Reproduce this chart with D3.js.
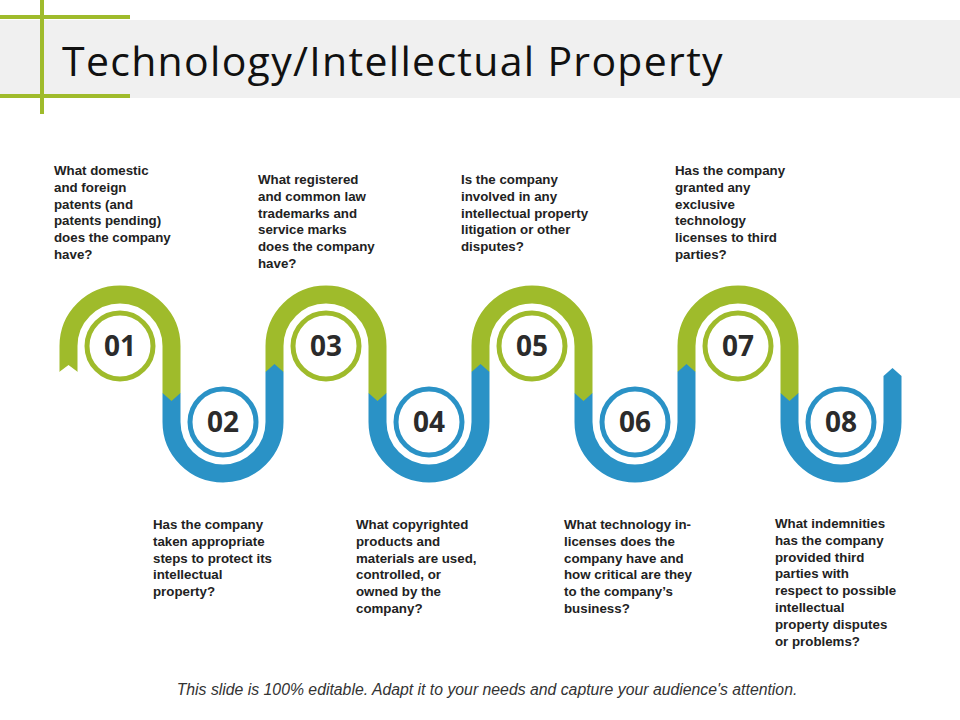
<!DOCTYPE html>
<html><head><meta charset="utf-8">
<script src="https://cdn.jsdelivr.net/npm/d3@7"></script>
<style>body{margin:0;background:#fff}</style></head>
<body><svg id="c" width="960" height="720"></svg>
<script>
const steps = ["01","02","03","04","05","06","07","08"];
const questions = [
 ["What domestic","and foreign","patents (and","patents pending)","does the company","have?"],
 ["Has the company","taken appropriate","steps to protect its","intellectual","property?"],
 ["What registered","and common law","trademarks and","service marks","does the company","have?"],
 ["What copyrighted","products and","materials are used,","controlled, or","owned by the","company?"],
 ["Is the company","involved in any","intellectual property","litigation or other","disputes?"],
 ["What technology in-","licenses does the","company have and","how critical are they","to the company’s","business?"],
 ["Has the company","granted any","exclusive","technology","licenses to third","parties?"],
 ["What indemnities","has the company","provided third","parties with","respect to possible","intellectual","property  disputes","or problems?"]
];
const textTop = [170,524,179,524,179,524,170,523];
const textX = [54,153,258,356,461,564,675,775];
const title = "Technology/Intellectual Property";
const footer = "This slide is 100% editable. Adapt it to your needs and capture your audience's attention.";

const GREEN="#9fbb2b", BLUE="#2a92c6";
const svg = d3.select("#c");
const x = d3.scaleLinear().domain([0,7]).range([120,841]);
const r = (x(1)-x(0))/2, bw=18, yTop=346, yBot=422;
const cy = i => i%2===0 ? yTop : yBot;

svg.append("rect").attr("x",0).attr("y",20).attr("width",960).attr("height",78).attr("fill","#f0f0f0");
svg.append("rect").attr("x",0).attr("y",15).attr("width",130).attr("height",4).attr("fill",GREEN);
svg.append("rect").attr("x",0).attr("y",94).attr("width",130).attr("height",4).attr("fill",GREEN);
svg.append("rect").attr("x",40).attr("y",0).attr("width",4).attr("height",114).attr("fill",GREEN);
svg.append("text").attr("x",62).attr("y",76).attr("font-family","Open Sans").attr("font-size",41)
  .attr("letter-spacing",1.3).attr("fill","#111").text(title);

const g = svg.append("g");
const downY=393, upY=372;
steps.forEach((s,i)=>{
  const c=x(i), col=i%2===0?GREEN:BLUE, y=cy(i);
  const p=d3.path();
  let yL, yR;
  if(i%2===0){ yL=upY; yR=downY;
    p.moveTo(c-r,yL); p.lineTo(c-r,y); p.arc(c,y,r,Math.PI,0,false); p.lineTo(c+r,yR);
  } else { yL=downY; yR=upY; if(i===7) yR=376;
    p.moveTo(c-r,yL); p.lineTo(c-r,y); p.arc(c,y,r,Math.PI,0,true); p.lineTo(c+r,yR);
  }
  g.append("path").attr("d",p.toString()).attr("fill","none").attr("stroke",col).attr("stroke-width",bw);
});
steps.forEach((s,i)=>{
  const c=x(i);
  if(i%2===0){
    const xr=c+r;
    g.append("path").attr("d",`M${xr-bw/2},${downY}L${xr},${downY+8}L${xr+bw/2},${downY}Z`).attr("fill",GREEN);
    if(i===0){
      const xl=c-r;
      g.append("path").attr("d",`M${xl-bw/2-1},${upY+0.5}L${xl},${upY-7}L${xl+bw/2+1},${upY+0.5}Z`).attr("fill","#fff");
    }
  } else {
    const xr=c+r, yy=i===7?376:upY;
    g.append("path").attr("d",`M${xr-bw/2},${yy}L${xr},${yy-8}L${xr+bw/2},${yy}Z`).attr("fill",BLUE);
  }
});
steps.forEach((s,i)=>{
  const col=i%2===0?GREEN:BLUE;
  g.append("circle").attr("cx",x(i)).attr("cy",cy(i)).attr("r",33).attr("fill","#fff")
   .attr("stroke",col).attr("stroke-width",5);
  g.append("text").attr("x",x(i)).attr("y",cy(i)+10).attr("text-anchor","middle")
   .attr("font-family","Open Sans").attr("font-weight","bold").attr("font-size",28)
   .attr("fill","#2b2b2b").text(s);
});
questions.forEach((lines,i)=>{
  const t=svg.append("text").attr("font-family","Liberation Sans, Arial").attr("font-weight","bold")
    .attr("font-size",13.3).attr("fill","#222");
  lines.forEach((l,k)=>t.append("tspan").attr("x",textX[i]).attr("y",textTop[i]+5+k*16.8).text(l));
});
svg.append("text").attr("x",487).attr("y",695).attr("text-anchor","middle").attr("font-family","Liberation Sans, Arial")
  .attr("font-style","italic").attr("font-size",15.8).attr("fill","#333").text(footer);
</script></body></html>
